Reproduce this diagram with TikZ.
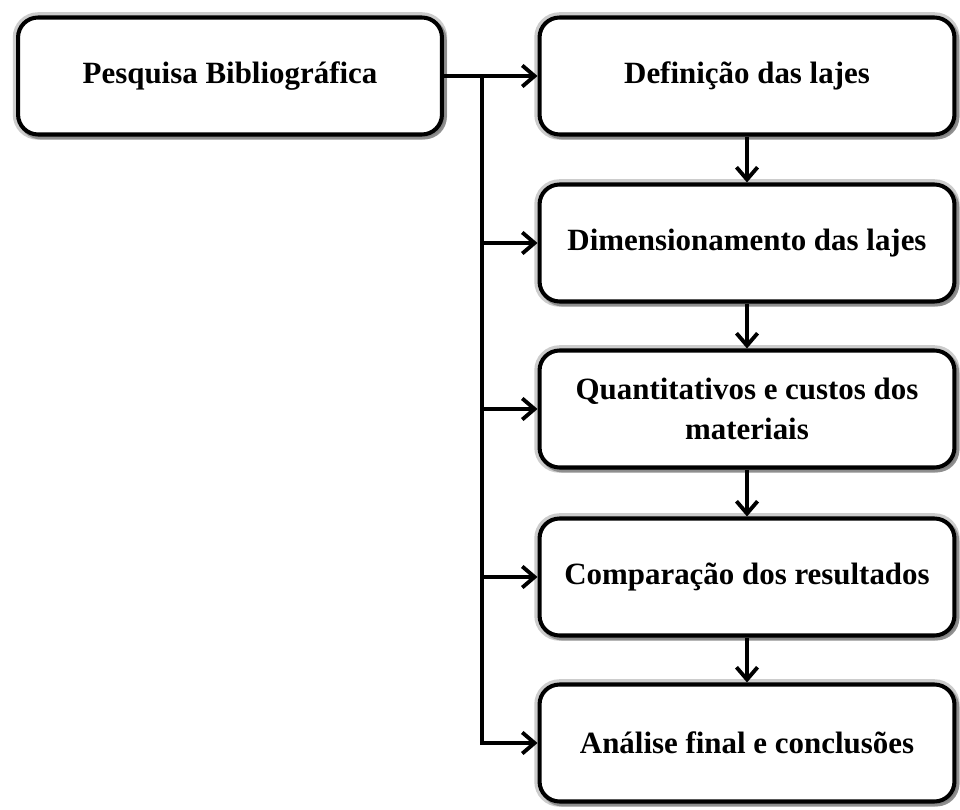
\documentclass[tikz,border=0pt]{standalone}
\usepackage{fontspec}
\setmainfont{Liberation Serif}
\usetikzlibrary{arrows.meta, positioning, shadows}

\tikzset{
  etapa/.style={draw=black, line width=2.3pt, rounded corners=0.4cm, fill=white,
    minimum width=8.3cm, minimum height=2.34cm, align=center,
    font=\fontsize{17.6}{23}\selectfont\bfseries,
    general shadow={draw=black!25, line width=6pt, fill=black!25, opacity=0.8},
    drop shadow={shadow xshift=1.5pt, shadow yshift=-1.5pt, draw=black!50, line width=2.5pt, fill=black!50, opacity=0.8}},
  fluxo/.style={line width=2.2pt, -{Straight Barb[length=7pt, width=12pt, line width=2.2pt]}}
}

\begin{document}
\begin{tikzpicture}[x=0.02cm, y=-0.02cm]

  \useasboundingbox (0,0) rectangle (960,810);

  % Box on the left
  \node[etapa, minimum width=8.48cm] (pesq) at (230,76) {Pesquisa Bibliográfica};

  % Column of steps
  \node[etapa] (def)  at (747,76)  {Definição das lajes};
  \node[etapa] (dim)  at (747,243) {Dimensionamento das lajes};
  \node[etapa] (quant) at (747,409) {Quantitativos e custos dos\\materiais};
  \node[etapa] (comp) at (747,577) {Comparação dos resultados};
  \node[etapa] (anal) at (747,743) {Análise final e conclusões};

  % Arrows down the column
  \draw[fluxo] (def) -- (dim);
  \draw[fluxo] (dim) -- (quant);
  \draw[fluxo] (quant) -- (comp);
  \draw[fluxo] (comp) -- (anal);

  % Branch line from the left box
  \coordinate (tronco) at (482,76);
  \draw[fluxo] (pesq.east) -- (def.west);
  \draw[fluxo] (tronco) |- (anal.west);
  \draw[fluxo] (tronco |- dim.west) -- (dim.west);
  \draw[fluxo] (tronco |- quant.west) -- (quant.west);
  \draw[fluxo] (tronco |- comp.west) -- (comp.west);

\end{tikzpicture}
\end{document}
